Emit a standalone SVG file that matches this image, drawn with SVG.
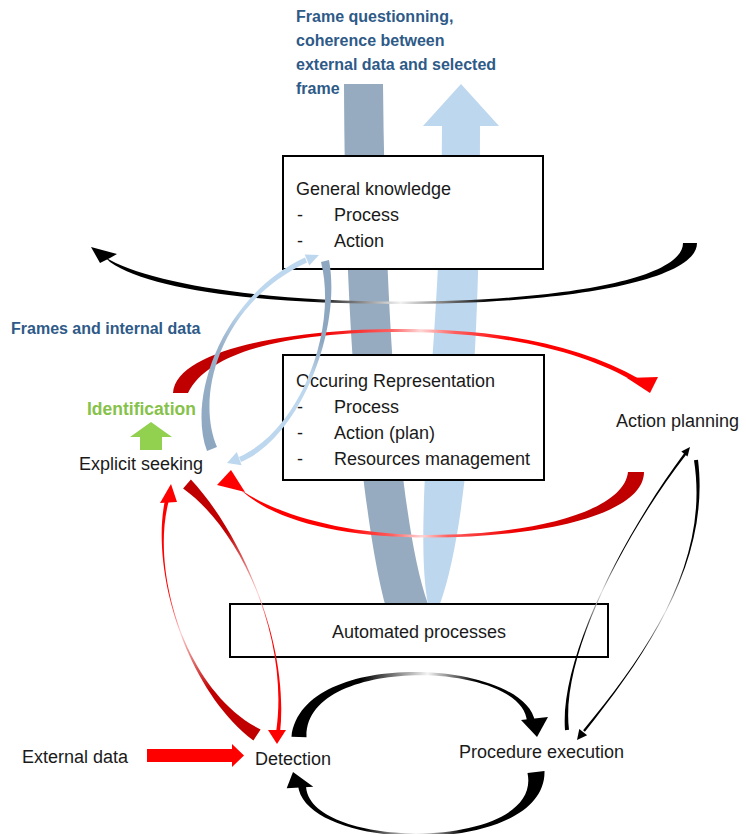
<svg xmlns="http://www.w3.org/2000/svg" width="746" height="834" viewBox="0 0 746 834">
<style>
.t{font-family:"Liberation Sans",Arial,sans-serif;font-size:18px;fill:#1a1a1a}
.b{font-family:"Liberation Sans",Arial,sans-serif;font-size:16px;font-weight:bold;fill:#2E5A88}
.g{font-family:"Liberation Sans",Arial,sans-serif;font-size:17.5px;font-weight:bold;fill:#86C24A}
.box{fill:#fff;stroke:#000;stroke-width:2}
</style>
<defs>
<linearGradient id="gBlackTop" gradientUnits="userSpaceOnUse" x1="92" y1="0" x2="697" y2="0">
<stop offset="0" stop-color="#000"/><stop offset="0.36" stop-color="#000"/><stop offset="0.51" stop-color="#f2f2f2"/><stop offset="0.66" stop-color="#000"/><stop offset="1" stop-color="#000"/>
</linearGradient>
<linearGradient id="gRedUp" gradientUnits="userSpaceOnUse" x1="173" y1="0" x2="658" y2="0">
<stop offset="0" stop-color="#C00000"/><stop offset="0.1" stop-color="#C00000"/><stop offset="0.3" stop-color="#F00000"/><stop offset="0.45" stop-color="#FF6060"/><stop offset="0.51" stop-color="#FFD6D6"/><stop offset="0.58" stop-color="#FF6060"/><stop offset="0.7" stop-color="#FF0000"/><stop offset="1" stop-color="#FF0000"/>
</linearGradient>
<linearGradient id="gRedLow" gradientUnits="userSpaceOnUse" x1="644" y1="0" x2="217" y2="0">
<stop offset="0" stop-color="#C00000"/><stop offset="0.12" stop-color="#C00000"/><stop offset="0.3" stop-color="#F00000"/><stop offset="0.46" stop-color="#FF6060"/><stop offset="0.52" stop-color="#FFD6D6"/><stop offset="0.59" stop-color="#FF6060"/><stop offset="0.7" stop-color="#FF0000"/><stop offset="1" stop-color="#FF0000"/>
</linearGradient>
<linearGradient id="gRedL" gradientUnits="userSpaceOnUse" x1="257" y1="735" x2="167" y2="490">
<stop offset="0" stop-color="#C00000"/><stop offset="0.22" stop-color="#C00000"/><stop offset="0.47" stop-color="#FFD0D0"/><stop offset="0.62" stop-color="#FF0000"/><stop offset="1" stop-color="#FF0000"/>
</linearGradient>
<linearGradient id="gRedR" gradientUnits="userSpaceOnUse" x1="187" y1="484" x2="278" y2="733">
<stop offset="0" stop-color="#C00000"/><stop offset="0.22" stop-color="#C00000"/><stop offset="0.48" stop-color="#FFD0D0"/><stop offset="0.62" stop-color="#FF0000"/><stop offset="1" stop-color="#FF0000"/>
</linearGradient>
<linearGradient id="gBlkDP" gradientUnits="userSpaceOnUse" x1="292" y1="0" x2="548" y2="0">
<stop offset="0" stop-color="#000"/><stop offset="0.27" stop-color="#000"/><stop offset="0.53" stop-color="#f4f4f4"/><stop offset="0.72" stop-color="#000"/><stop offset="1" stop-color="#000"/>
</linearGradient>
<linearGradient id="gBlkPD" gradientUnits="userSpaceOnUse" x1="286" y1="0" x2="546" y2="0">
<stop offset="0" stop-color="#000"/><stop offset="0.3" stop-color="#000"/><stop offset="0.5" stop-color="#f4f4f4"/><stop offset="0.68" stop-color="#000"/><stop offset="1" stop-color="#000"/>
</linearGradient>
<linearGradient id="gBlkL" gradientUnits="userSpaceOnUse" x1="567" y1="730" x2="686" y2="456">
<stop offset="0" stop-color="#000"/><stop offset="0.3" stop-color="#000"/><stop offset="0.47" stop-color="#dddddd"/><stop offset="0.6" stop-color="#000"/><stop offset="1" stop-color="#000"/>
</linearGradient>
<linearGradient id="gBlkR" gradientUnits="userSpaceOnUse" x1="696" y1="460" x2="584" y2="731">
<stop offset="0" stop-color="#000"/><stop offset="0.35" stop-color="#000"/><stop offset="0.52" stop-color="#dddddd"/><stop offset="0.68" stop-color="#000"/><stop offset="1" stop-color="#000"/>
</linearGradient>
<linearGradient id="gBlue1" gradientUnits="userSpaceOnUse" x1="212" y1="450" x2="310" y2="258">
<stop offset="0" stop-color="#8EA7C0"/><stop offset="0.45" stop-color="#99B2CA"/><stop offset="0.65" stop-color="#BDD7EE"/><stop offset="1" stop-color="#BDD7EE"/>
</linearGradient>
<linearGradient id="gBlue2" gradientUnits="userSpaceOnUse" x1="326" y1="261" x2="228" y2="463">
<stop offset="0" stop-color="#8EA7C0"/><stop offset="0.33" stop-color="#8EA7C0"/><stop offset="0.5" stop-color="#BDD7EE"/><stop offset="1" stop-color="#BDD7EE"/>
</linearGradient>
</defs>
<rect width="746" height="834" fill="#fff"/>

<g id="bands">
<path d="M344,84 L383,84 C385,300 398,520 428,604 L385,604 C368,540 345,380 344,84 Z" fill="#96ABC0"/>
<path d="M461,84 L499,126 L480,126 C480,330 470,520 440,604 L428,604 C412,520 442,330 442,126 L423,126 Z" fill="#BDD7EE"/>
</g>

<g id="label-frame-questioning">
<text class="b" x="296" y="22">Frame questionning,</text>
<text class="b" x="296" y="46">coherence between</text>
<text class="b" x="296" y="70">external data and selected</text>
<text class="b" x="296" y="94">frame</text>
</g>

<g id="label-frames-internal">
<text class="b" x="11" y="334">Frames and internal data</text>
</g>

<g id="node-general-knowledge">
<rect class="box" x="283" y="156" width="260" height="113"/>
<text class="t" x="296" y="195">General knowledge</text>
<text class="t" x="297" y="221">-</text><text class="t" x="334" y="221">Process</text>
<text class="t" x="297" y="247">-</text><text class="t" x="334" y="247">Action</text>
</g>

<g id="node-occuring-representation">
<rect class="box" x="283" y="355" width="261" height="125"/>
<text class="t" x="296" y="387">Occuring Representation</text>
<text class="t" x="297" y="413">-</text><text class="t" x="334" y="413">Process</text>
<text class="t" x="297" y="439">-</text><text class="t" x="334" y="439">Action (plan)</text>
<text class="t" x="297" y="465">-</text><text class="t" x="334" y="465">Resources management</text>
</g>

<g id="node-automated-processes">
<rect class="box" x="230" y="604" width="378" height="53"/>
<text class="t" x="419" y="638" text-anchor="middle">Automated processes</text>
</g>

<g id="node-identification">
<text class="g" x="87" y="415">Identification</text>
<polygon points="151,422 172,437 162,437 162,450 140,450 140,437 130,437" fill="#92D050"/>
</g>

<g id="node-explicit-seeking"><text class="t" x="79" y="470">Explicit seeking</text></g>
<g id="node-action-planning"><text class="t" x="616" y="427">Action planning</text></g>
<g id="node-external-data"><text class="t" x="22" y="763">External data</text></g>
<g id="node-detection"><text class="t" x="255" y="765">Detection</text></g>
<g id="node-procedure-execution"><text class="t" x="459" y="758">Procedure execution</text></g>

<g id="connectors">
<!-- black top arc -->
<path d="M697,243 C697,282 560,304 400,304 C260,304 150,290 110,262 L105,257 C145,283 262,301.5 400,301.5 C555,301.5 683,280 683,243 Z" fill="url(#gBlackTop)"/>
<polygon points="91,247 117,254 110,258 100,263" fill="#000"/>
<!-- red upper arc: explicit seeking -> action planning -->
<path d="M173,393 C176,350 290,329 400,329 C500,329 580,345 639.4,379 L636.6,383.1 C585,352 505,332 400,332 C300,332 210,348 188,393 Z" fill="url(#gRedUp)"/>
<polygon points="627,378 658,377 650,393" fill="#FF0000"/>
<!-- red lower arc: action planning -> explicit seeking -->
<path d="M644,472 C644,515 540,537.5 430,537.5 C345,537.5 275,522 241,490 L233,484 C270,514 345,535 430,535 C530,535 624,512 628,472 Z" fill="url(#gRedLow)"/>
<polygon points="217,485 231,470 245,492" fill="#FF0000"/>
<!-- blue arcs -->
<path d="M207,451 C187,398 222,296 305,257.5 L307,262.5 C220,303 195,396 217,447 Z" fill="url(#gBlue1)"/>
<polygon points="319,255 304.7,254.5 309.3,265.5" fill="#BDD7EE"/>
<path d="M329,260 C342,330 300,437 241,462 L239,457 C300,430 338,330 321,262 Z" fill="url(#gBlue2)"/>
<polygon points="227,463 236.8,452 241.6,465.2" fill="#BDD7EE"/>
<!-- red left pair -->
<path d="M260.6,729.6 C184.2,690.5 150,570 168.9,500.5 L165.1,499.5 C150,570 185.8,689.5 253.4,740.4 Z" fill="url(#gRedL)"/>
<polygon points="171,484 177,502 160,503" fill="#FF0000"/>
<path d="M190.9,479.5 C239,530.7 290,640 280,733.3 L276,732.7 C290,640 241,529.3 183.1,488.5 Z" fill="url(#gRedR)"/>
<polygon points="277,744 268,730 286,730" fill="#FF0000"/>
<!-- black right pair -->
<path d="M569,729.8 C560.3,660.1 620,540 686.5,454.2 L684.5,452.8 C620,540 559.7,659.9 565,730.2 Z" fill="url(#gBlkL)"/>
<polygon points="690,447 681.3,451.6 687.5,456.6" fill="#000"/>
<path d="M694,460.3 C709.7,559.9 650,650 583.1,730.2 L584.9,731.8 C650,650 710.3,560.1 698,459.7 Z" fill="url(#gBlkR)"/>
<polygon points="577,740 579.3,729.1 587.1,735.3" fill="#000"/>
<!-- black bottom pair -->
<path d="M306.5,737.3 C304.3,653.8 524.9,660.5 527,722.3 L535,721.7 C525.1,659.5 301.7,646.2 291.5,736.7 Z" fill="url(#gBlkDP)"/>
<polygon points="521,720 548,717 537,737" fill="#000"/>
<path d="M527.5,772.9 C544,852.2 305.3,851 306,784.8 L298,785.2 C304.7,853 546,857.8 544.5,771.1 Z" fill="url(#gBlkPD)"/>
<polygon points="293,772 286.7,788.3 313.3,786.7" fill="#000"/>
<!-- external data arrow -->
<polygon points="147,749 232,749 232,744 244,755.5 232,767 232,762 147,762" fill="#FF0000"/>
</g>
</svg>
